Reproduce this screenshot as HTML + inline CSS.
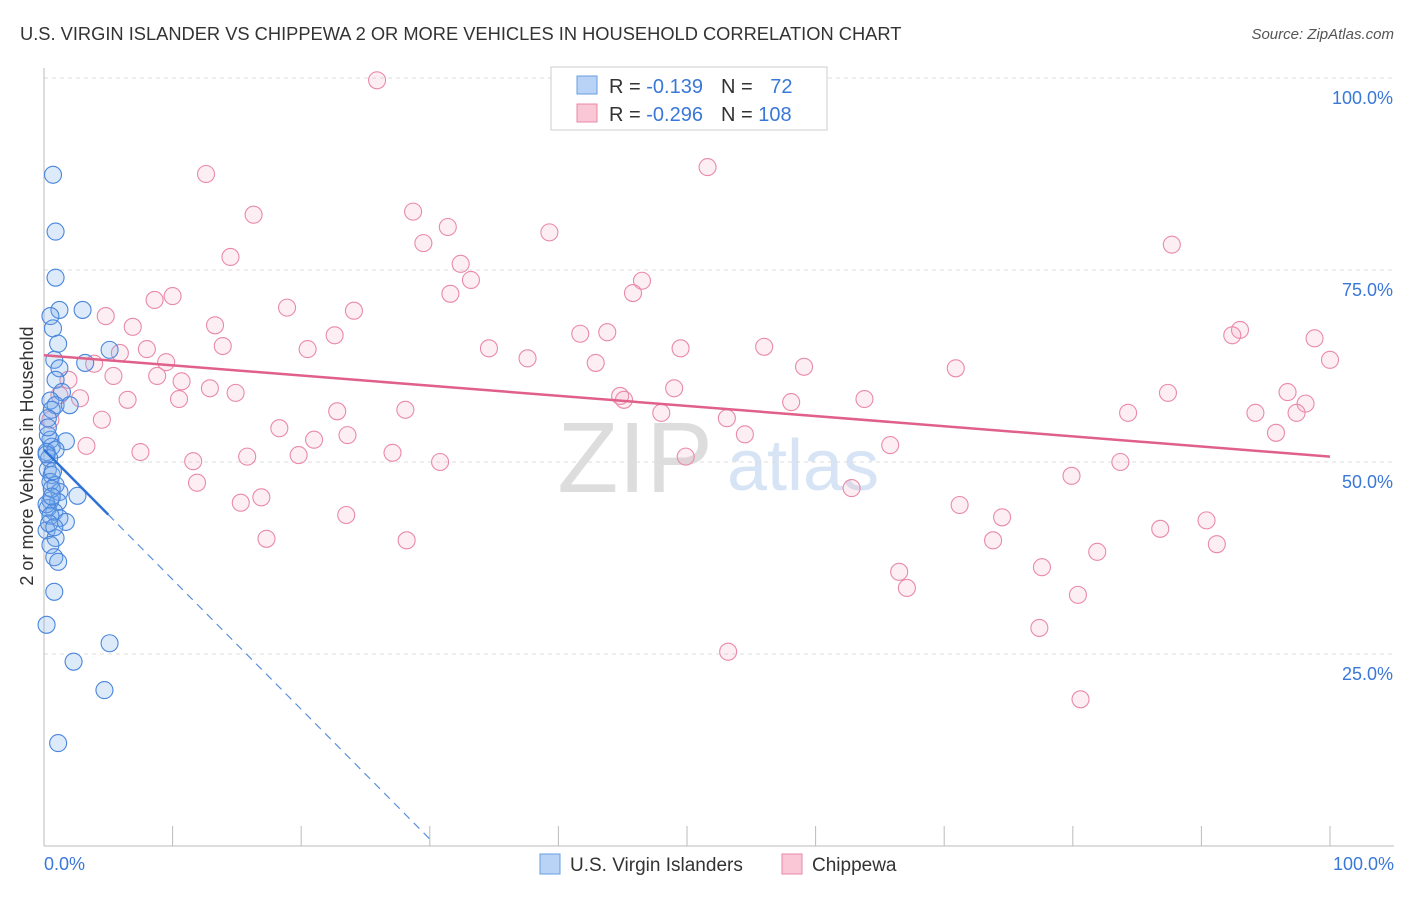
<!DOCTYPE html>
<html><head><meta charset="utf-8"><style>
body{margin:0;background:#fff;font-family:"Liberation Sans",sans-serif;}
svg text{font-family:"Liberation Sans",sans-serif;}
</style></head><body>
<svg id="c" width="1406" height="892" xmlns="http://www.w3.org/2000/svg">
<text x="20" y="40" font-size="18.3" fill="#333">U.S. VIRGIN ISLANDER VS CHIPPEWA 2 OR MORE VEHICLES IN HOUSEHOLD CORRELATION CHART</text>
<text x="1394" y="39" font-size="15" fill="#555" text-anchor="end" font-style="italic">Source: ZipAtlas.com</text>
<g><text x="635" y="492" font-size="100" fill="#ddd" text-anchor="middle" font-family="Liberation Serif">ZIP</text><text x="803" y="490" font-size="72" fill="#d6e4f5" text-anchor="middle">atlas</text></g>
<text transform="translate(33,456) rotate(-90)" font-size="18" fill="#333" text-anchor="middle">2 or more Vehicles in Household</text>
<g id="grid"></g><g id="axes"></g><g id="pts"></g><g id="lines"></g>
<g>
<rect x="551" y="67" width="276" height="63" fill="#fff" stroke="#ccc"/>
<rect x="577" y="76" width="20" height="18" fill="#b8d3f5" stroke="#6a9ee0"/>
<rect x="577" y="104" width="20" height="18" fill="#f9c7d6" stroke="#e98aa8"/>
<text x="609" y="93" font-size="20" fill="#333">R = <tspan fill="#3a78d8">-0.139</tspan><tspan dx="18">N = </tspan><tspan fill="#3a78d8" dx="12">72</tspan></text>
<text x="609" y="121" font-size="20" fill="#333">R = <tspan fill="#3a78d8">-0.296</tspan><tspan dx="18">N = </tspan><tspan fill="#3a78d8">108</tspan></text>
</g>
<g>
<rect x="540" y="854" width="20" height="20" fill="#b8d3f5" stroke="#6a9ee0"/>
<text x="570" y="871" font-size="19" fill="#333">U.S. Virgin Islanders</text>
<rect x="782" y="854" width="20" height="20" fill="#f9c7d6" stroke="#e98aa8"/>
<text x="812" y="871" font-size="19" fill="#333">Chippewa</text>
</g>
<text x="44" y="870" font-size="18" fill="#3a78d8">0.0%</text>
<text x="1394" y="870" font-size="18" fill="#3a78d8" text-anchor="end">100.0%</text>
</svg>
<script>
const yTicks=[25,50,75,100];
const yTickLabels=["25.0%","50.0%","75.0%","100.0%"];
const xTicks=[0,10,20,30,40,50,60,70,80,90,100];
const blueX=[0.7,0.9,0.9,1.2,3,0.5,0.7,1.1,5.1,3.2,0.8,1.2,0.9,1.4,0.5,0.9,2,0.6,0.3,1.7,0.5,0.6,0.2,0.9,0.3,0.6,0.5,0.9,1.2,2.6,0.5,1.1,0.3,0.8,1.2,1.7,0.2,0.9,0.5,0.8,1.1,0.8,0.2,5.1,2.3,4.7,1.1,0.3,0.4,0.6,0.2,0.5,0.7,0.3,0.4,0.6,0.8,0.2];
const blueY=[87.4,80,74,69.8,69.8,69,67.4,65.4,64.6,62.9,63.3,62.2,60.7,59.1,58,57.4,57.4,56.8,55.7,52.7,52.9,52,51.3,51.6,49,48.3,47.4,47,46.1,45.6,45,44.8,44,43.5,42.7,42.2,41.1,40.1,39.2,37.6,37,33.1,28.8,26.4,24,20.3,13.4,53.5,50.5,46.5,44.5,43,48.8,54.5,42,45.5,41.5,51];
const pinkX=[25.9,51.6,12.6,16.3,28.7,31.4,39.3,29.5,14.5,32.4,33.2,87.7,46.5,45.8,31.6,10.0,8.6,18.9,24.1,4.8,13.3,6.9,22.6,41.7,43.8,93.0,92.4,98.8,13.9,20.5,34.6,8.0,49.5,56.0,5.9,37.6,42.9,3.9,9.5,100,70.9,59.1,5.4,8.8,10.7,12.9,49.0,87.4,96.7,14.9,1.9,1.2,2.8,44.8,45.1,6.5,10.5,63.8,58.1,98.1,22.8,28.1,84.3,94.2,48.0,97.4,53.1,4.5,18.3,23.6,54.5,95.8,21.0,65.8,3.3,7.5,15.8,27.1,19.8,11.6,30.8,49.9,83.7,79.9,11.9,62.8,16.9,15.3,71.2,23.5,74.5,90.4,86.8,17.3,28.2,73.8,91.2,81.9,77.6,66.5,67.1,80.4,77.4,53.2,80.6,0.5];
const pinkY=[99.7,88.4,87.5,82.2,82.6,80.6,79.9,78.5,76.7,75.8,73.7,78.3,73.6,72.0,71.9,71.6,71.1,70.1,69.7,69.0,67.8,67.6,66.5,66.7,66.9,67.2,66.5,66.1,65.1,64.7,64.8,64.7,64.8,65.0,64.2,63.5,62.9,62.8,63.0,63.3,62.2,62.4,61.2,61.2,60.5,59.6,59.6,59.0,59.1,59.0,60.7,58.7,58.3,58.6,58.1,58.1,58.2,58.2,57.8,57.6,56.6,56.8,56.4,56.4,56.4,56.4,55.7,55.5,54.4,53.5,53.6,53.8,52.9,52.2,52.1,51.3,50.7,51.2,50.9,50.1,50.0,50.7,50.0,48.2,47.3,46.6,45.4,44.7,44.4,43.1,42.8,42.4,41.3,40.0,39.8,39.8,39.3,38.3,36.3,35.7,33.6,32.7,28.4,25.3,19.1,55.5];
const pinkLine=[63.9,50.7];
const blueLine=[51.6,-1.69];
const NS="http://www.w3.org/2000/svg";
const X=v=>44+v*12.86, Y=v=>846-v*7.68;
function mk(t,a,p){const e=document.createElementNS(NS,t);for(const k in a)e.setAttribute(k,a[k]);document.getElementById(p).appendChild(e);return e;}
yTicks.forEach((t,i)=>{
 const g=mk('line',{x1:44,x2:1394,y1:Y(t),y2:Y(t),stroke:'#ddd','stroke-dasharray':'4,4'},'grid');
 
 
 const l=mk('text',{x:1393,y:Y(t)+26,'font-size':18,fill:'#3a78d8','text-anchor':'end'},'axes');
 l.textContent=yTickLabels[i];
 
 
});
const ax=mk('line',{x1:44,x2:1394,y1:846,y2:846,stroke:'#bbb'},'axes');


const ay=mk('line',{x1:44,x2:44,y1:68,y2:846,stroke:'#bbb'},'axes');


xTicks.forEach(t=>{const k=mk('line',{x1:X(t),x2:X(t),y1:826,y2:846,stroke:'#bbb'},'axes');
 
 });
pinkX.forEach((v,i)=>{const c=mk('circle',{cx:X(v),cy:Y(pinkY[i]),r:8.5,fill:'rgba(244,160,186,0.18)',stroke:'#e98aa8','stroke-width':1.1},'pts');
 
 });
blueX.forEach((v,i)=>{const c=mk('circle',{cx:X(v),cy:Y(blueY[i]),r:8.5,fill:'rgba(120,170,235,0.25)',stroke:'#4a86dc','stroke-width':1.1},'pts');
 
 });
const pl=mk('line',{x1:X(0),y1:Y(pinkLine[0]),x2:X(100),y2:Y(pinkLine[1]),stroke:'#e0608a','stroke-width':2.5},'lines');


const bl=mk('line',{x1:X(0),y1:Y(blueLine[0]),x2:X(5),y2:Y(blueLine[0]+blueLine[1]*5),stroke:'#2f72d6','stroke-width':2.5},'lines');


const bd=mk('line',{x1:X(5),y1:Y(blueLine[0]+blueLine[1]*5),x2:X(30),y2:Y(blueLine[0]+blueLine[1]*30),stroke:'#5a90dc','stroke-width':1.2,'stroke-dasharray':'8,6'},'lines');


</script>
</body></html>
